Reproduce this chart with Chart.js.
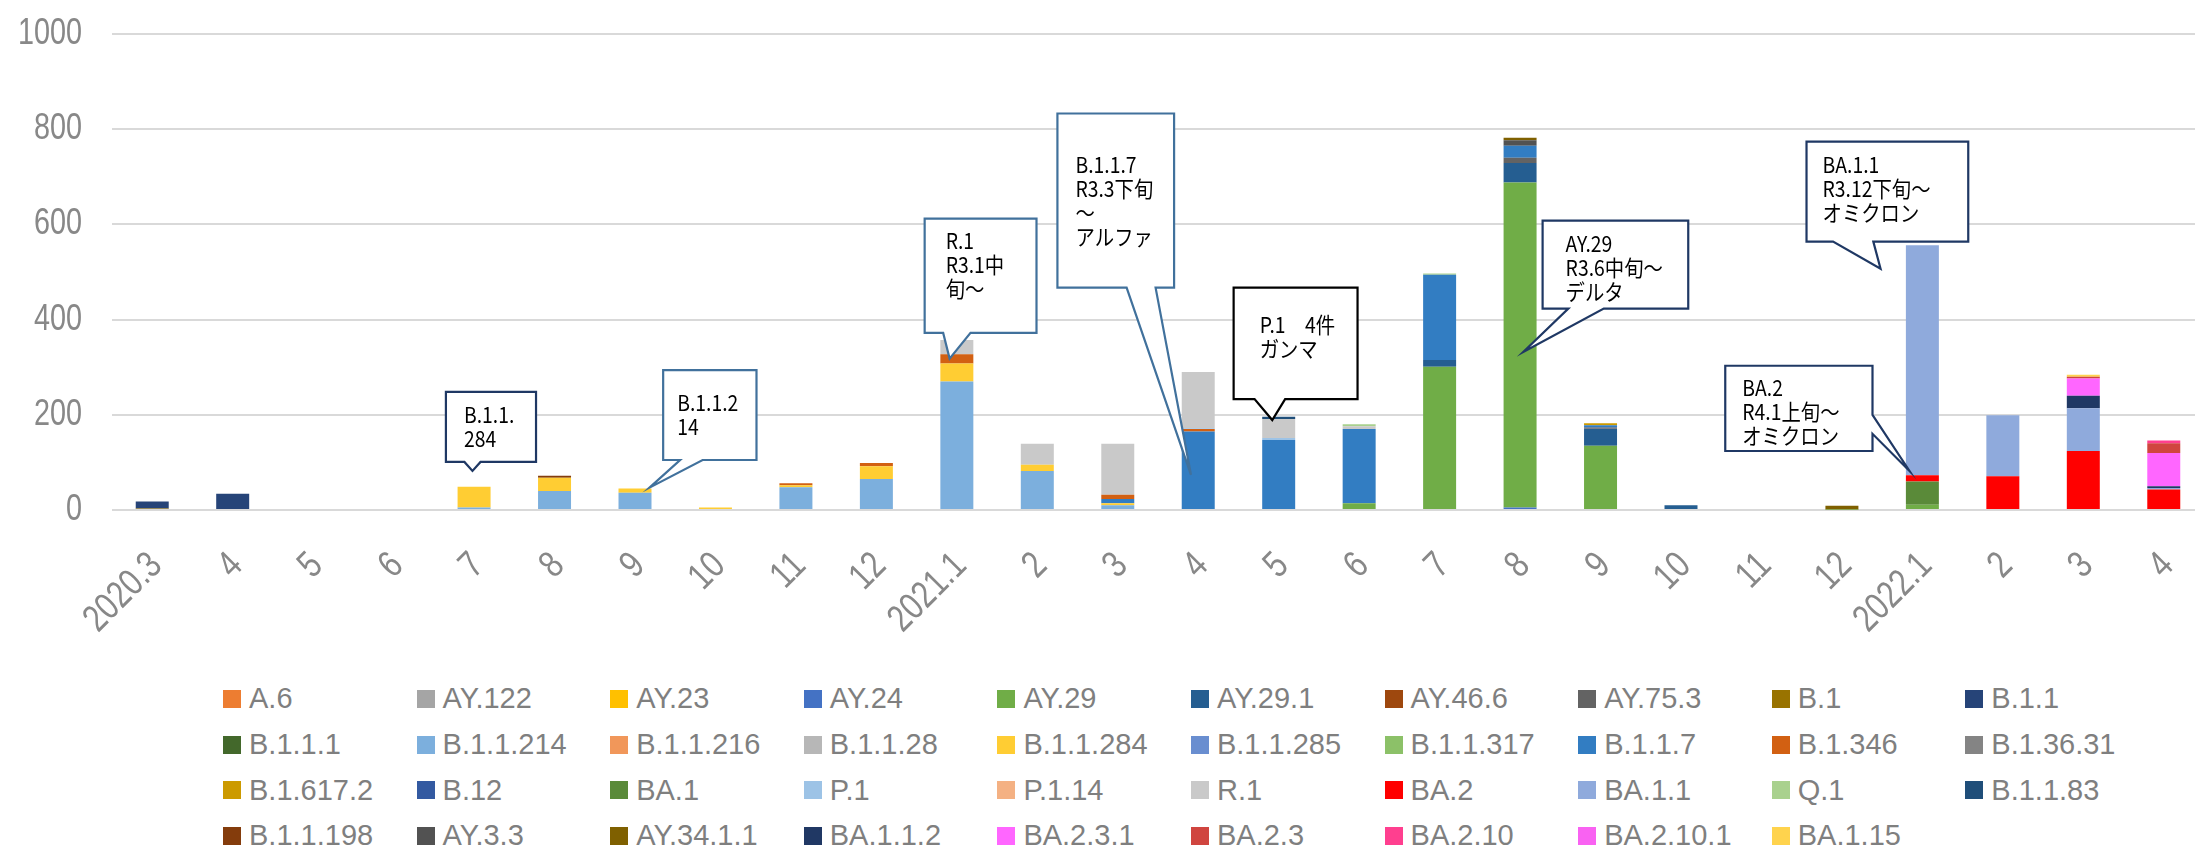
<!DOCTYPE html>
<html>
<head>
<meta charset="utf-8">
<script src="https://cdn.jsdelivr.net/npm/chart.js@4.4.1/dist/chart.umd.min.js"></script>
<style>
  html, body { margin: 0; padding: 0; background: #fff; overflow: hidden; width: 2195px; height: 854px; }
  #wrap { position: absolute; left: 0; top: 0; width: 2210px; height: 670px; }
  #legend { position: absolute; left: 223px; top: 676px; display: grid;
    grid-template-columns: repeat(10, 193.6px); grid-auto-rows: 45.7px;
    font: 29px 'Liberation Sans', Arial, sans-serif; color: #7f7f7f; }
  #legend .item { display: flex; align-items: center; white-space: nowrap; }
  #legend .sw { width: 18px; height: 18px; margin-right: 8px; flex: none; }
</style>
</head>
<body>
<div id="wrap"><canvas id="myChart"></canvas></div>
<div id="legend"></div>
<script>
// months on the x axis
var months = ['2020.3','4','5','6','7','8','9','10','11','12',
              '2021.1','2','3','4','5','6','7','8','9','10','11','12',
              '2022.1','2','3','4'];

// lineage names (legend order = stacking order, bottom first)
var lineages = ['A.6','AY.122','AY.23','AY.24','AY.29','AY.29.1','AY.46.6','AY.75.3','B.1','B.1.1',
                'B.1.1.1','B.1.1.214','B.1.1.216','B.1.1.28','B.1.1.284','B.1.1.285','B.1.1.317','B.1.1.7','B.1.346','B.1.36.31',
                'B.1.617.2','B.12','BA.1','P.1','P.1.14','R.1','BA.2','BA.1.1','Q.1','B.1.1.83',
                'B.1.1.198','AY.3.3','AY.34.1.1','BA.1.1.2','BA.2.3.1','BA.2.3','BA.2.10','BA.2.10.1','BA.1.15'];

var colors = ['#ED7D31','#A5A5A5','#FFC000','#4472C4','#70AD47','#255E91','#9E480E','#636363','#997300','#264478',
              '#43682B','#7CAFDD','#F1975A','#B7B7B7','#FFCD33','#698ED0','#8CC168','#327DC2','#D26012','#848484',
              '#CC9A00','#335AA1','#5A8A39','#9DC3E6','#F4B183','#C9C9C9','#FF0000','#8FAADC','#A9D18E','#1F4E79',
              '#843C0C','#525252','#7F6000','#203864','#FF66FF','#D0453F','#FF3F8F','#F962F2','#FFD34D'];

// counts per month (only lineages that appear; the rest are all zero)
var AY24      = [0,0,0,0,0,0,0,0,0,0, 0,0,0,0,0,0,0,5,0,0,0,0, 0,0,0,0];
var AY29      = [0,0,0,0,0,0,0,0,0,0, 0,0,0,0,0,14,301,683,135,0,0,1, 11,0,0,0];
var AY29_1    = [0,0,0,0,0,0,0,0,0,0, 0,0,0,0,0,0,14,41,36,10,0,0, 0,0,0,0];
var AY46_6    = [0,0,0,0,0,0,0,0,0,0, 0,0,0,0,0,0,0,0,2,0,0,0, 0,0,0,0];
var AY75_3    = [0,0,0,0,0,0,0,0,0,0, 0,0,0,0,0,0,0,11,0,0,0,0, 0,0,0,0];
var B1        = [3,0,0,0,0,0,0,0,0,0, 0,0,0,0,0,0,0,0,0,0,0,0, 0,0,0,0];
var B1_1      = [15,34,0,0,0,0,0,0,0,0, 0,0,0,0,0,0,0,0,0,0,0,0, 0,0,0,0];
var B1_1_214  = [0,0,0,0,5,40,36,0,48,65, 270,82,10,0,0,0,0,0,0,0,0,0, 0,0,0,0];
var B1_1_284  = [0,0,0,0,44,28,9,5,4,27, 38,13,4,0,0,0,0,0,0,0,0,0, 0,0,0,0];
var B1_1_7    = [0,0,0,0,0,0,0,0,0,0, 0,0,9,165,147,156,179,25,5,0,0,0, 0,0,0,0];
var B1_346    = [0,0,0,0,0,0,0,0,4,7, 19,0,9,5,0,0,0,0,0,0,0,0, 0,0,0,0];
var B1_617_2  = [0,0,0,0,0,0,0,0,0,0, 0,0,0,0,0,0,0,0,4,0,0,0, 0,0,0,0];
var BA1       = [0,0,0,0,0,0,0,0,0,0, 0,0,0,0,0,0,0,0,0,0,0,0, 49,0,0,0];
var P1        = [0,0,0,0,0,0,0,0,0,0, 0,0,0,2,4,0,0,0,0,0,0,0, 0,0,0,0];
var R1        = [0,0,0,0,0,0,0,0,0,0, 30,44,107,118,40,6,0,0,0,0,0,0, 0,0,0,0];
var BA2       = [0,0,0,0,0,0,0,0,0,0, 0,0,0,0,0,0,0,0,0,0,0,0, 13,71,124,43];
var BA1_1     = [0,0,0,0,0,0,0,0,0,0, 0,0,0,0,0,0,0,0,0,0,0,0, 483,128,90,3];
var Q1        = [0,0,0,0,0,0,0,0,0,0, 0,0,0,0,0,4,3,0,0,0,0,0, 0,0,0,0];
var B1_1_83   = [0,0,0,0,0,0,0,0,0,0, 0,0,0,0,5,0,0,0,0,0,0,0, 0,0,0,0];
var B1_1_198  = [0,0,0,0,0,4,0,0,0,0, 0,0,0,0,0,0,0,0,0,0,0,0, 0,0,0,0];
var AY3_3     = [0,0,0,0,0,0,0,0,0,0, 0,0,0,0,0,0,0,12,0,0,0,0, 0,0,0,0];
var AY34_1_1  = [0,0,0,0,0,0,0,0,0,0, 0,0,0,0,0,0,0,5,0,0,0,8, 0,0,0,0];
var BA1_1_2   = [0,0,0,0,0,0,0,0,0,0, 0,0,0,0,0,0,0,0,0,0,0,0, 0,0,26,4];
var BA2_3_1   = [0,0,0,0,0,0,0,0,0,0, 0,0,0,0,0,0,0,0,0,0,0,0, 0,0,36,70];
var BA2_3     = [0,0,0,0,0,0,0,0,0,0, 0,0,0,0,0,0,0,0,0,0,0,0, 0,0,4,20];
var BA2_10    = [0,0,0,0,0,0,0,0,0,0, 0,0,0,0,0,0,0,0,0,0,0,0, 0,0,0,6];
var BA1_15    = [0,0,0,0,0,0,0,0,0,0, 0,0,0,0,0,0,0,0,0,0,0,0, 0,0,4,0];

var seriesValues = {
  'AY.24': AY24, 'AY.29': AY29, 'AY.29.1': AY29_1, 'AY.46.6': AY46_6, 'AY.75.3': AY75_3,
  'B.1': B1, 'B.1.1': B1_1, 'B.1.1.214': B1_1_214, 'B.1.1.284': B1_1_284, 'B.1.1.7': B1_1_7,
  'B.1.346': B1_346, 'B.1.617.2': B1_617_2, 'BA.1': BA1, 'P.1': P1, 'R.1': R1, 'BA.2': BA2,
  'BA.1.1': BA1_1, 'Q.1': Q1, 'B.1.1.83': B1_1_83, 'B.1.1.198': B1_1_198, 'AY.3.3': AY3_3,
  'AY.34.1.1': AY34_1_1, 'BA.1.1.2': BA1_1_2, 'BA.2.3.1': BA2_3_1, 'BA.2.3': BA2_3,
  'BA.2.10': BA2_10, 'BA.1.15': BA1_15
};

var yTicks = [0, 200, 400, 600, 800, 1000];

// callout notes: box = [left idx, right idx, top value, bottom value], tip = [idx, value]
var callouts = [
  { lines: ['B.1.1.', '284'], box: [3.65, 4.77, 248, 101], base: [3.88, 4.08], tip: [3.98, 82], color: '#1F3864', padX: 18, padY: 23 },
  { lines: ['B.1.1.2', '14'], box: [6.35, 7.51, 294, 105], base: [6.56, 6.84], tip: [6.18, 47], color: '#41719C', padX: 14, padY: 33 },
  { lines: ['R.1', 'R3.1中', '旬〜'], box: [9.60, 10.99, 612, 372], base: [9.83, 10.17], tip: [9.91, 318], color: '#41719C', padX: 21, padY: 22 },
  { lines: ['B.1.1.7', 'R3.3下旬', '〜', 'アルファ'], box: [11.25, 12.70, 833, 467], base: [12.11, 12.47], tip: [12.91, 74], color: '#41719C', padX: 18, padY: 51 },
  { lines: ['P.1　4件', 'ガンマ'], box: [13.44, 14.98, 467, 233], base: [13.70, 14.08], tip: [13.92, 189], color: '#000000', padX: 26, padY: 37 },
  { lines: ['AY.29', 'R3.6中旬〜', 'デルタ'], box: [17.28, 19.09, 608, 423], base: [17.60, 18.04], tip: [17.04, 332], color: '#1F3864', padX: 23, padY: 23 },
  { lines: ['BA.1.1', 'R3.12下旬〜', 'オミクロン'], box: [20.56, 22.57, 774, 564], base: [20.89, 21.39], tip: [21.48, 507], color: '#1F3864', padX: 16, padY: 23 },
  { lines: ['BA.2', 'R4.1上旬〜', 'オミクロン'], box: [19.55, 21.38, 303, 124], side: 'right', base: [200, 160], tip: [21.84, 82], color: '#1F3864', padX: 17, padY: 22 }
];

var zeros = months.map(function () { return 0; });
var datasets = lineages.map(function (name, i) {
  return {
    label: name,
    data: seriesValues[name] || zeros,
    backgroundColor: colors[i],
    borderWidth: 0,
    barPercentage: 0.41,
    categoryPercentage: 1.0
  };
});

// the source uses a tall, narrow axis font: draw it squeezed horizontally
var axisLabelPlugin = {
  id: 'axisLabels',
  afterDraw: function (chart) {
    var ctx = chart.ctx, xs = chart.scales.x, ys = chart.scales.y;
    ctx.save();
    ctx.fillStyle = '#888888';
    ctx.textAlign = 'right';
    ctx.textBaseline = 'alphabetic';
    ctx.font = "36px 'Liberation Sans', Arial, sans-serif";
    yTicks.forEach(function (v) {
      ctx.save();
      ctx.translate(ys.right - 30, ys.getPixelForValue(v) + 10);
      ctx.scale(0.8, 1);
      ctx.fillText(String(v), 0, 0);
      ctx.restore();
    });
    ctx.font = "38px 'Liberation Sans', Arial, sans-serif";
    ctx.textBaseline = 'middle';
    months.forEach(function (m, i) {
      ctx.save();
      ctx.translate(xs.getPixelForValue(i) + 4, xs.top + 50);
      ctx.rotate(-Math.PI / 4);
      ctx.scale(0.8, 1);
      ctx.fillText(m, 0, 0);
      ctx.restore();
    });
    ctx.restore();
  }
};

// draws the speech-bubble notes on top of the bars
var calloutPlugin = {
  id: 'callouts',
  afterDatasetsDraw: function (chart) {
    var ctx = chart.ctx, xs = chart.scales.x, ys = chart.scales.y;
    ctx.save();
    callouts.forEach(function (c) {
      var l = xs.getPixelForValue(c.box[0]), r = xs.getPixelForValue(c.box[1]);
      var t = ys.getPixelForValue(c.box[2]), b = ys.getPixelForValue(c.box[3]);
      var tx = xs.getPixelForValue(c.tip[0]), ty = ys.getPixelForValue(c.tip[1]);
      ctx.beginPath();
      ctx.moveTo(l, t);
      ctx.lineTo(r, t);
      if (c.side === 'right') {
        ctx.lineTo(r, ys.getPixelForValue(c.base[0]));
        ctx.lineTo(tx, ty);
        ctx.lineTo(r, ys.getPixelForValue(c.base[1]));
        ctx.lineTo(r, b);
        ctx.lineTo(l, b);
      } else {
        ctx.lineTo(r, b);
        ctx.lineTo(xs.getPixelForValue(c.base[1]), b);
        ctx.lineTo(tx, ty);
        ctx.lineTo(xs.getPixelForValue(c.base[0]), b);
        ctx.lineTo(l, b);
      }
      ctx.closePath();
      ctx.fillStyle = '#ffffff';
      ctx.fill();
      ctx.lineWidth = 2.2;
      ctx.strokeStyle = c.color;
      ctx.lineJoin = 'miter';
      ctx.stroke();
      ctx.fillStyle = '#000';
      ctx.font = "22px 'Noto Sans CJK JP', sans-serif";
      ctx.textBaseline = 'middle';
      ctx.textAlign = 'left';
      c.lines.forEach(function (s, k) {
        ctx.save();
        ctx.translate(l + c.padX, t + c.padY + k * 24);
        ctx.scale(0.88, 1);
        ctx.fillText(s, 0, 0);
        ctx.restore();
      });
    });
    ctx.restore();
  }
};

var ctx = document.getElementById('myChart').getContext('2d');
var myChart = new Chart(ctx, {
  type: 'bar',
  data: { labels: months, datasets: datasets },
  options: {
    responsive: true,
    maintainAspectRatio: false,
    animation: false,
    layout: { padding: { top: 34, right: 6, left: 0, bottom: 0 } },
    plugins: { legend: { display: false }, tooltip: { enabled: false } },
    scales: {
      x: {
        stacked: true,
        grid: { display: false, drawTicks: false },
        border: { display: false },
        ticks: { display: false, autoSkip: false },
        afterFit: function (s) { s.height = 160; }
      },
      y: {
        stacked: true,
        min: 0,
        max: 1000,
        afterBuildTicks: function (s) { s.ticks = yTicks.map(function (v) { return { value: v }; }); },
        ticks: { display: false },
        grid: { color: '#D9D9D9', lineWidth: 2, drawTicks: false },
        border: { display: false },
        afterFit: function (s) { s.width = 112; }
      }
    }
  },
  plugins: [calloutPlugin, axisLabelPlugin]
});

// legend as a fixed 10-column grid, built from the chart's datasets
var legendBox = document.getElementById('legend');
myChart.data.datasets.forEach(function (d) {
  var item = document.createElement('div');
  item.className = 'item';
  var sw = document.createElement('span');
  sw.className = 'sw';
  sw.style.background = d.backgroundColor;
  var tx = document.createElement('span');
  tx.textContent = d.label;
  item.appendChild(sw);
  item.appendChild(tx);
  legendBox.appendChild(item);
});
</script>
</body>
</html>
